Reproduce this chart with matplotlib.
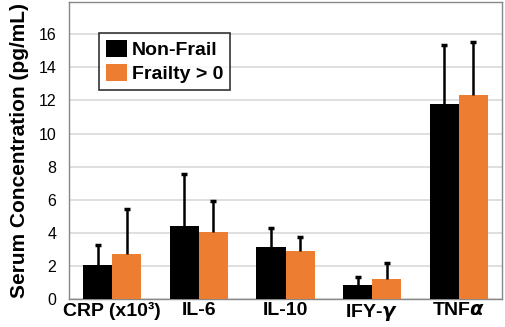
import matplotlib
matplotlib.use("Agg")
import matplotlib.pyplot as plt
import numpy as np

plt.rcParams['font.family'] = ['Liberation Sans', 'DejaVu Sans']

categories = ["CRP (x10³)", "IL-6", "IL-10", "IFY-$\\boldsymbol{\\gamma}$", "TNF$\\boldsymbol{\\alpha}$"]
nonfrail = [2.03, 4.43, 3.16, 0.85, 11.8]
nonfrail_err = [1.23, 3.12, 1.15, 0.46, 3.54]
frailty = [2.72, 4.03, 2.92, 1.21, 12.3]
frailty_err = [2.70, 1.87, 0.80, 0.96, 3.22]
yticks = [0, 2, 4, 6, 8, 10, 12, 14, 16]

fig = plt.figure(figsize=(5.05, 3.27), dpi=100)
ax = fig.add_axes([69/505, 1 - 299/327, 433/505, 297/327])

x = np.arange(len(categories))
w = 0.335
orange = "#ED7D31"
zeros = [0]*len(x)
ax.bar(x - w/2, nonfrail, w, color="black", label="Non-Frail", zorder=3)
ax.bar(x + w/2, frailty, w, color=orange, label="Frailty > 0", zorder=3)
for xs, vals, errs in [(x - w/2, nonfrail, nonfrail_err), (x + w/2, frailty, frailty_err)]:
    eb = ax.errorbar(xs, vals, yerr=[zeros, errs], fmt="none", ecolor="black",
                     elinewidth=1.8, capsize=2.5, capthick=2.5, zorder=4)
    caps = eb[1]
    caps[0].set_visible(False)

ax.set_xlim(-0.5, len(x) - 0.5)
ax.set_ylim(0, 17.95)
ax.set_yticks(yticks)
ax.set_yticklabels([str(t) for t in yticks], fontsize=11.5)
ax.set_xticks(x)
ax.set_xticklabels(categories, fontsize=14, fontweight="bold")
ax.tick_params(axis="x", length=0, pad=2)
ax.tick_params(axis="y", length=0, pad=9)
ax.grid(axis="y", color="#d9d9d9", linewidth=1.2, zorder=0)
ax.set_axisbelow(True)
for s in ax.spines.values():
    s.set_color("#888888")
    s.set_linewidth(1.0)

ax.set_ylabel("Serum Concentration (pg/mL)", fontsize=15, fontweight="bold", labelpad=7)

leg = ax.legend(loc="upper left", bbox_to_anchor=(30/433, 1 - 31/297),
                prop={"weight": "bold", "size": 14}, frameon=True, fancybox=False,
                edgecolor="black", handlelength=1.1, handleheight=0.95, handletextpad=0.25,
                borderpad=0.35, labelspacing=0.25, borderaxespad=0)
leg.get_frame().set_linewidth(1.2)

fig.savefig("out.png", dpi=100)
